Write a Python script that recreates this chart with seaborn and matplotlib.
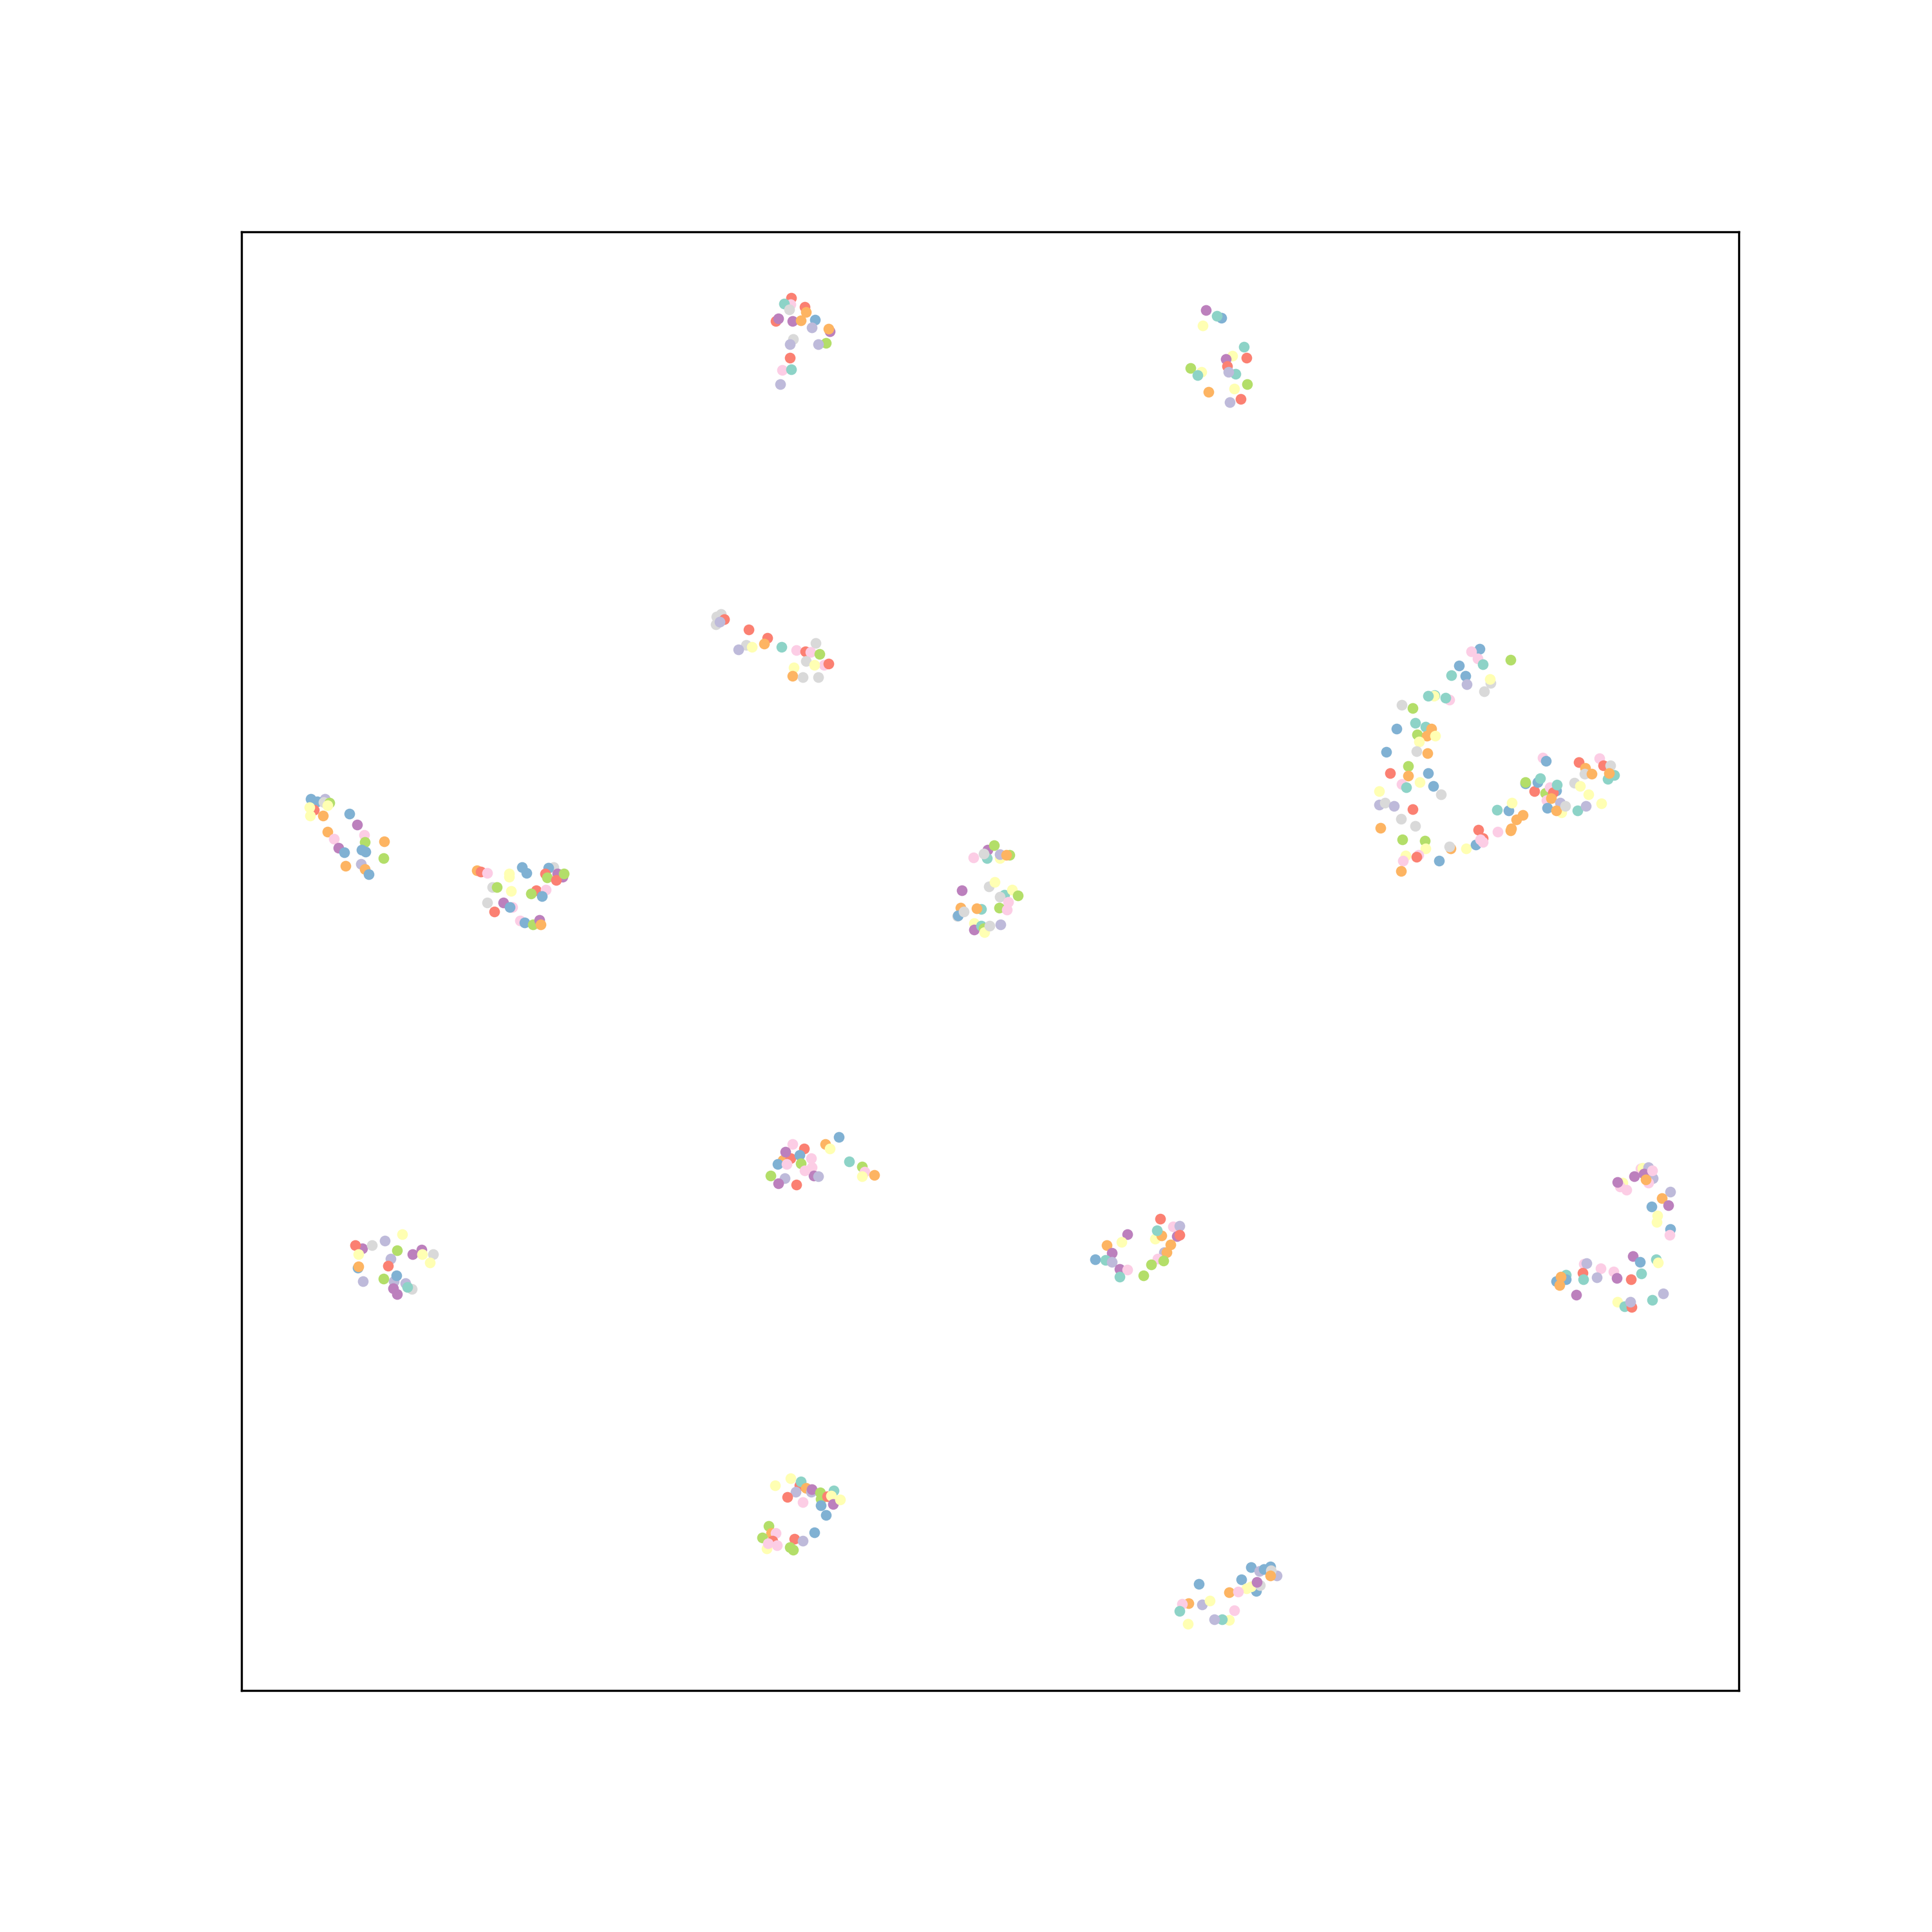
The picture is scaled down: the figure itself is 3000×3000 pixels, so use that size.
import numpy as np
import pandas as pd
import matplotlib
matplotlib.use("Agg")
import matplotlib.pyplot as plt
import seaborn as sns

# class labels (letter code -> label) and Set3 colours
codes = ["T", "Y", "L", "R", "B", "O", "G", "P", "S", "U"]
labels = ["0", "1", "2", "3", "4", "5", "6", "7", "8", "9"]

# points: (x, y, class code), y grows downwards
top_mid = [(1229, 463, "R"), (1228, 473, "P"), (1218, 472, "T"), (1226, 481, "S"),
           (1250, 477, "R"), (1252, 485, "O"), (1205, 499, "R"), (1209, 495, "U"),
           (1231, 499, "U"), (1244, 498, "O"), (1266, 497, "B"), (1261, 509, "L"),
           (1289, 515, "U"), (1287, 511, "O"), (1232, 527, "S"), (1227, 535, "L"),
           (1283, 533, "G"), (1271, 535, "L"), (1227, 556, "R"), (1215, 575, "P"),
           (1229, 574, "T"), (1212, 597, "L")]

top_right = [(1873, 482, "U"), (1897, 494, "B"), (1890, 491, "T"), (1868, 506, "Y"),
             (1932, 539, "T"), (1914, 553, "Y"), (1936, 556, "R"), (1904, 558, "U"),
             (1906, 569, "R"), (1919, 581, "T"), (1908, 578, "L"), (1849, 572, "G"),
             (1866, 578, "Y"), (1860, 583, "T"), (1937, 597, "G"), (1917, 604, "Y"),
             (1877, 609, "O"), (1927, 620, "R"), (1910, 625, "L")]

upper_mid = [(1113, 958, "S"), (1112, 970, "S"), (1120, 954, "S"), (1125, 962, "R"),
             (1118, 966, "L"), (1163, 978, "R"), (1192, 991, "R"), (1159, 1002, "S"),
             (1168, 1005, "Y"), (1147, 1009, "L"), (1187, 1000, "O"), (1214, 1005, "T"),
             (1237, 1010, "P"), (1251, 1012, "R"), (1267, 999, "S"), (1259, 1013, "P"),
             (1273, 1016, "G"), (1252, 1027, "S"), (1280, 1033, "P"), (1265, 1033, "Y"),
             (1287, 1031, "R"), (1233, 1037, "Y"), (1231, 1050, "O"), (1247, 1052, "S"),
             (1271, 1052, "S")]

big_arc = [(2298, 1008, "B"), (2285, 1012, "P"), (2295, 1023, "P"), (2303, 1032, "T"),
           (2346, 1025, "G"), (2266, 1034, "B"), (2254, 1049, "T"), (2276, 1050, "B"),
           (2278, 1063, "L"), (2315, 1061, "S"), (2314, 1055, "Y"), (2305, 1074, "S"),
           (2228, 1080, "T"), (2227, 1081, "Y"), (2218, 1081, "T"), (2251, 1087, "P"),
           (2245, 1084, "T"), (2177, 1095, "S"), (2194, 1100, "G"), (2198, 1123, "T"),
           (2214, 1129, "T"), (2223, 1132, "O"), (2169, 1132, "B"), (2201, 1141, "G"),
           (2216, 1143, "O"), (2229, 1143, "Y"), (2204, 1152, "Y"), (2200, 1167, "S"),
           (2217, 1170, "O"), (2153, 1168, "B"), (2187, 1190, "G"), (2187, 1205, "O"),
           (2159, 1201, "R"), (2218, 1201, "B"), (2177, 1218, "P"), (2184, 1223, "T"),
           (2205, 1215, "Y"), (2226, 1221, "B"), (2238, 1234, "S"), (2142, 1229, "Y"),
           (2142, 1250, "L"), (2151, 1247, "S"), (2165, 1252, "L"), (2194, 1257, "R"),
           (2176, 1272, "S"), (2198, 1283, "S"), (2144, 1286, "O"), (2178, 1304, "G"),
           (2213, 1306, "G"), (2214, 1318, "Y"), (2183, 1329, "Y"), (2203, 1328, "P"),
           (2200, 1331, "R"), (2179, 1337, "P"), (2235, 1337, "B"), (2176, 1353, "O"),
           (2253, 1318, "O"), (2251, 1315, "S"), (2277, 1318, "Y"), (2292, 1312, "B"),
           (2296, 1289, "R"), (2303, 1302, "R"), (2303, 1308, "P"), (2299, 1304, "P"),
           (2326, 1292, "P"), (2346, 1290, "O"), (2347, 1287, "O"), (2355, 1273, "O"),
           (2365, 1266, "O"), (2325, 1258, "T"), (2343, 1259, "B"), (2348, 1247, "Y"),
           (2369, 1217, "B"), (2369, 1215, "G"), (2383, 1229, "R"), (2388, 1215, "B"),
           (2392, 1209, "T"), (2396, 1177, "P"), (2401, 1182, "B"), (2400, 1232, "G"),
           (2407, 1223, "P"), (2417, 1228, "B"), (2412, 1231, "R"), (2418, 1219, "T"),
           (2402, 1243, "P"), (2409, 1240, "O"), (2423, 1247, "L"), (2403, 1255, "B"),
           (2425, 1262, "Y"), (2417, 1259, "O"), (2431, 1252, "S"), (2445, 1216, "S"),
           (2454, 1221, "Y"), (2467, 1234, "Y"), (2450, 1259, "T"), (2463, 1252, "L"),
           (2487, 1248, "Y"), (2452, 1184, "R"), (2462, 1193, "O"), (2461, 1202, "S"),
           (2472, 1202, "O"), (2484, 1178, "P"), (2490, 1189, "R"), (2501, 1189, "S"),
           (2507, 1204, "T"), (2497, 1210, "T"), (2499, 1201, "O")]

far_left = [(483, 1241, "B"), (505, 1241, "L"), (493, 1245, "B"), (503, 1246, "S"),
            (512, 1247, "G"), (509, 1251, "Y"), (488, 1258, "R"), (481, 1254, "Y"),
            (482, 1267, "Y"), (502, 1267, "O"), (543, 1264, "B"), (555, 1281, "U"),
            (509, 1292, "O"), (566, 1297, "P"), (519, 1303, "P"), (567, 1308, "G"),
            (597, 1307, "O"), (526, 1317, "U"), (535, 1324, "B"), (562, 1320, "B"),
            (568, 1323, "B"), (596, 1333, "G"), (537, 1345, "O"), (561, 1342, "L"),
            (567, 1350, "O"), (573, 1358, "B")]

left_mid = [(741, 1352, "O"), (747, 1354, "R"), (757, 1356, "P"), (791, 1357, "Y"),
            (791, 1362, "Y"), (811, 1347, "B"), (818, 1356, "B"), (860, 1347, "S"),
            (852, 1348, "B"), (847, 1357, "R"), (850, 1363, "G"), (866, 1357, "U"),
            (874, 1362, "U"), (864, 1367, "R"), (876, 1357, "G"), (765, 1378, "S"),
            (772, 1378, "G"), (794, 1384, "Y"), (833, 1383, "R"), (848, 1382, "P"),
            (842, 1392, "B"), (825, 1388, "G"), (757, 1402, "S"), (796, 1409, "P"),
            (782, 1402, "U"), (792, 1409, "B"), (768, 1416, "R"), (808, 1430, "P"),
            (815, 1433, "B"), (828, 1436, "G"), (838, 1429, "U"), (840, 1436, "O")]

center = [(1534, 1320, "U"), (1544, 1313, "G"), (1512, 1332, "P"), (1533, 1333, "T"),
          (1528, 1326, "S"), (1553, 1333, "Y"), (1553, 1327, "L"), (1568, 1328, "G"),
          (1563, 1328, "O"), (1536, 1377, "S"), (1545, 1370, "Y"), (1494, 1383, "U"),
          (1560, 1390, "T"), (1553, 1393, "S"), (1572, 1382, "Y"), (1581, 1391, "G"),
          (1566, 1401, "P"), (1552, 1410, "G"), (1564, 1413, "P"), (1492, 1410, "O"),
          (1487, 1423, "S"), (1488, 1422, "B"), (1497, 1416, "S"), (1524, 1412, "T"),
          (1517, 1411, "O"), (1513, 1434, "Y"), (1513, 1444, "U"), (1524, 1438, "T"),
          (1528, 1442, "G"), (1529, 1448, "Y"), (1537, 1438, "S"), (1554, 1436, "L")]

lower_mid = [(1303, 1766, "B"), (1282, 1777, "O"), (1289, 1784, "Y"), (1231, 1777, "P"),
             (1249, 1784, "R"), (1216, 1802, "O"), (1228, 1799, "R"), (1220, 1789, "U"),
             (1242, 1794, "B"), (1260, 1799, "P"), (1208, 1808, "B"), (1222, 1808, "P"),
             (1244, 1807, "G"), (1261, 1813, "P"), (1264, 1826, "U"), (1250, 1818, "P"),
             (1271, 1827, "L"), (1197, 1826, "G"), (1219, 1830, "L"), (1209, 1838, "U"),
             (1237, 1840, "R"), (1319, 1804, "T"), (1339, 1812, "G"), (1343, 1820, "P"),
             (1339, 1827, "Y"), (1358, 1825, "O")]

lower_left = [(625, 1917, "Y"), (598, 1927, "L"), (563, 1939, "U"), (552, 1934, "R"),
              (578, 1934, "S"), (557, 1948, "Y"), (617, 1942, "G"), (607, 1955, "L"),
              (641, 1948, "U"), (655, 1941, "U"), (656, 1948, "Y"), (673, 1948, "S"),
              (668, 1961, "Y"), (556, 1969, "B"), (557, 1967, "O"), (603, 1966, "R"),
              (564, 1990, "L"), (596, 1986, "G"), (612, 1990, "L"), (616, 1981, "B"),
              (630, 1993, "L"), (640, 2002, "S"), (633, 1999, "T"), (611, 2001, "U"),
              (617, 2010, "U")]

lower_right_mid = [(1802, 1893, "R"), (1822, 1905, "P"), (1832, 1904, "L"), (1794, 1924, "Y"),
                   (1804, 1919, "O"), (1797, 1911, "T"), (1828, 1920, "U"), (1832, 1918, "R"),
                   (1818, 1933, "O"), (1808, 1945, "L"), (1812, 1945, "O"), (1798, 1955, "P"),
                   (1807, 1958, "G"), (1788, 1964, "G"), (1776, 1981, "G"), (1751, 1917, "U"),
                   (1742, 1929, "Y"), (1719, 1934, "O"), (1727, 1946, "U"), (1701, 1956, "B"),
                   (1717, 1957, "T"), (1727, 1960, "L"), (1739, 1971, "U"), (1751, 1972, "P"),
                   (1739, 1983, "T")]

right_hook = [(2548, 1815, "P"), (2551, 1814, "Y"), (2560, 1813, "L"), (2538, 1827, "U"),
              (2553, 1823, "U"), (2567, 1830, "L"), (2560, 1837, "P"), (2566, 1818, "P"),
              (2556, 1832, "O"), (2520, 1837, "Y"), (2516, 1843, "P"), (2526, 1848, "P"),
              (2512, 1836, "U"), (2594, 1851, "L"), (2581, 1861, "O"), (2591, 1872, "U"),
              (2565, 1874, "B"), (2574, 1888, "Y"), (2573, 1898, "Y"), (2594, 1909, "B"),
              (2593, 1918, "P"), (2536, 1951, "U"), (2547, 1960, "B"), (2572, 1956, "T"),
              (2575, 1961, "Y"), (2460, 1963, "P"), (2464, 1962, "L"), (2486, 1970, "P"),
              (2506, 1975, "P"), (2511, 1985, "U"), (2533, 1987, "R"), (2549, 1978, "T"),
              (2458, 1977, "R"), (2459, 1987, "T"), (2480, 1984, "L"), (2417, 1990, "B"),
              (2432, 1980, "T"), (2432, 1987, "B"), (2424, 1983, "O"), (2422, 1996, "O"),
              (2448, 2011, "U"), (2512, 2022, "Y"), (2523, 2029, "T"), (2534, 2030, "R"),
              (2532, 2022, "L"), (2566, 2019, "T"), (2583, 2009, "L")]

bottom_mid = [(1228, 2296, "Y"), (1204, 2307, "Y"), (1242, 2307, "R"), (1244, 2301, "T"),
              (1252, 2311, "O"), (1236, 2317, "L"), (1260, 2317, "L"), (1261, 2313, "U"),
              (1223, 2325, "R"), (1247, 2333, "P"), (1275, 2328, "G"), (1274, 2318, "G"),
              (1295, 2315, "T"), (1285, 2324, "R"), (1291, 2323, "Y"), (1294, 2336, "U"),
              (1305, 2329, "Y"), (1275, 2338, "B"), (1283, 2353, "B"), (1265, 2380, "B"),
              (1194, 2370, "G"), (1198, 2381, "O"), (1205, 2381, "P"), (1184, 2388, "G"),
              (1191, 2405, "Y"), (1200, 2393, "R"), (1193, 2397, "P"), (1207, 2400, "P"),
              (1234, 2390, "R"), (1247, 2393, "L"), (1227, 2403, "G"), (1232, 2407, "G")]

bottom_right = [(1943, 2434, "B"), (1956, 2440, "L"), (1963, 2437, "B"), (1973, 2433, "B"),
                (1983, 2447, "L"), (1974, 2439, "S"), (1973, 2447, "O"), (1928, 2453, "B"),
                (1862, 2460, "B"), (1951, 2471, "B"), (1936, 2467, "Y"), (1943, 2464, "Y"),
                (1957, 2462, "S"), (1952, 2457, "U"), (1909, 2473, "O"), (1923, 2472, "P"),
                (1846, 2490, "O"), (1836, 2491, "P"), (1832, 2502, "T"), (1867, 2492, "L"),
                (1879, 2486, "Y"), (1917, 2501, "P"), (1909, 2516, "Y"), (1898, 2515, "T"),
                (1886, 2515, "L"), (1845, 2522, "Y")]

clusters = [top_mid, top_right, upper_mid, big_arc, far_left, left_mid, center,
            lower_mid, lower_left, lower_right_mid, right_hook, bottom_mid, bottom_right]

rows = [p for c in clusters for p in c]
df = pd.DataFrame(rows, columns=["x", "y", "code"])
df["label"] = df["code"].map(dict(zip(codes, labels)))

fig = plt.figure(figsize=(10, 10), dpi=300)
ax = fig.add_axes([0.125, 0.125, 0.775, 0.755])
sns.scatterplot(data=df, x="x", y="y", hue="label", hue_order=labels,
                palette=sns.color_palette("Set3", 10), s=16, linewidth=0,
                legend=False, ax=ax)
ax.set_xlim(375, 2700)
ax.set_ylim(2625, 360)
ax.set_xticks([])
ax.set_yticks([])
ax.set_xlabel("")
ax.set_ylabel("")
for sp in ax.spines.values():
    sp.set_color("black")
fig.savefig("out.png", dpi=300)
